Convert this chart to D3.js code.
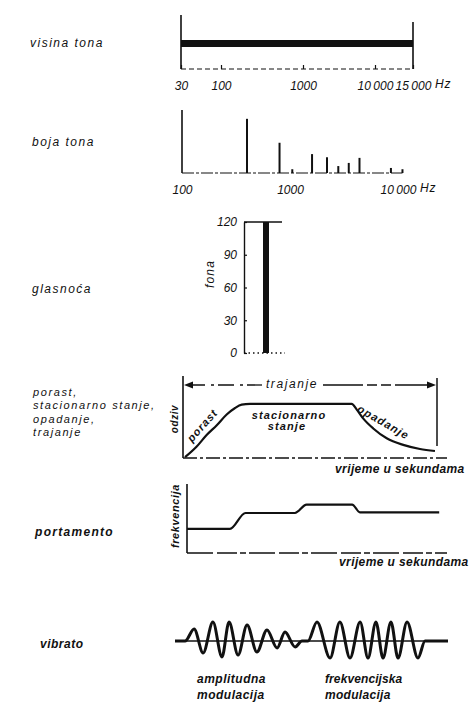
<!DOCTYPE html>
<html><head><meta charset="utf-8">
<script src="https://cdn.jsdelivr.net/npm/d3@7"></script>
<style>
body{margin:0;background:#fff;}
svg text{font-family:"Liberation Sans",Arial,sans-serif;font-style:italic;fill:#111;}
</style></head><body>
<svg id="c" width="471" height="714"></svg>
<script>
// ---------- data ----------
const rowLabels = ["visina tona", "boja tona", "glasnoća", "portamento", "vibrato"];
const envLegend = ["porast,", "stacionarno stanje,", "opadanje,", "trajanje"];

const pitchTicks = [30, 100, 1000, 10000, 15000];
const pitchTickLabels = ["30", "100", "1000", "10\u2009000", "15\u2009000"];
const pitchRange = [30, 15000];

const timbreTicks = [100, 1000, 10000];
const timbreTickLabels = ["100", "1000", "10\u2009000"];
const timbreFreqs = [400, 800, 1050, 1600, 2200, 2800, 3500, 4400, 8600, 11000];
const timbreAmps  = [86, 48, 6, 30, 25, 11, 16, 24, 8, 6];

const loudTicks = [0, 30, 60, 90, 120];
const loudRange = [0, 120];

const envTime  = [0.08, 0.54, 0.93, 1.33, 1.72, 2.05, 2.31, 2.64, 6.64, 6.84, 7.1, 7.49, 8.02, 8.67, 9.33, 9.92];
const envValue = [1, 14, 28, 40, 53, 61, 65, 66, 66, 59, 48, 36, 24, 16, 11, 8.5];
const envDuration = [0, 10];

const portTime = [0, 1.65, 2.25, 4.15, 4.6, 6.35, 6.65, 9.7];
const portFreq = [35, 35, 58, 58, 70, 70, 59, 59];

const vibTime  = [0, 3.7, 7.0, 10.3, 13.9, 17.2, 19.8, 23.1, 26.4, 30.0, 33.7, 37.4, 40.3, 44.0, 46.5, 48.7,
                  52.0, 56.8, 60.4, 64.1, 67.8, 70.7, 73.6, 76.2, 79.1, 81.7, 85.0, 89.0, 91.6, 100];
const vibValue = [0, 0, 12, -12, 19, -16, 19, -14, 16, -11, 11, -7, 9, -6, 0, 0,
                  19, -17, 19, -17, 19, -17, 19, -17, 19, -17, 19, -17, 0, 0];

// ---------- drawing ----------
const svg = d3.select("#c");
const ink = "#111";
function hline(g, x1, x2, y, w, dash) {
  g.append("line").attr("x1", x1).attr("x2", x2).attr("y1", y).attr("y2", y)
    .attr("stroke", ink).attr("stroke-width", w).attr("stroke-dasharray", dash || null);
}
function vline(g, x, y1, y2, w, dash) {
  g.append("line").attr("x1", x).attr("x2", x).attr("y1", y1).attr("y2", y2)
    .attr("stroke", ink).attr("stroke-width", w).attr("stroke-dasharray", dash || null);
}
function label(t, x, y, opts) {
  opts = opts || {};
  return svg.append("text").attr("x", x).attr("y", y).text(t)
    .attr("font-size", opts.size || 12)
    .attr("font-weight", opts.bold ? "bold" : "normal")
    .attr("letter-spacing", opts.ls == null ? 1.5 : opts.ls)
    .attr("text-anchor", opts.anchor || "start")
    .attr("dominant-baseline", "middle")
    .attr("transform", opts.rot != null ? `rotate(${opts.rot},${x},${y})` : null);
}
function styleAxis(g) {
  g.select(".domain").remove();
  g.selectAll("text").attr("font-size", 12).attr("fill", ink)
    .style("font-family", '"Liberation Sans",Arial,sans-serif').style("font-style", "italic");
  g.selectAll(".tick line").attr("stroke", ink).attr("stroke-width", 1.2);
}

// row labels
label(rowLabels[0], 30, 44);
label(rowLabels[1], 32, 143);
label(rowLabels[2], 32, 290);
label(rowLabels[3], 35, 533, {bold: true, ls: 1.3});
label(rowLabels[4], 40, 645, {bold: true, ls: 0.5});
envLegend.forEach((t, i) => label(t, 33, 393 + i * 13.3, {size: 11, ls: 1.6}));

// ---- panel 1: pitch range ----
{
  const x = d3.scaleLog().domain(pitchTicks).range([181, 221, 303, 375, 413]);
  const g = svg.append("g");
  const y0 = 69;
  g.append("rect").attr("x", x(pitchRange[0])).attr("width", x(pitchRange[1]) - x(pitchRange[0]))
    .attr("y", 40).attr("height", 7).attr("fill", ink);
  vline(g, x(pitchRange[0]), 15, y0, 1.6);
  vline(g, x(pitchRange[1]), 22, y0, 1.6);
  hline(g, x(pitchRange[0]), x(pitchRange[1]), y0, 1.2, "5,3");
  const ax = g.append("g").attr("transform", `translate(0,${y0})`)
    .call(d3.axisBottom(x).tickValues(pitchTicks).tickFormat((d, i) => pitchTickLabels[i])
      .tickSizeInner(-4).tickSizeOuter(0).tickPadding(12));
  styleAxis(ax);
  label("Hz", x(pitchRange[1]) + 22, y0 + 16, {ls: 0.8});
}

// ---- panel 2: timbre spectrum ----
{
  const x = d3.scaleLog().domain([100, 10000]).range([182, 398]);
  const y = d3.scaleLinear().domain([0, 100]).range([173, 110]);
  const g = svg.append("g");
  vline(g, x(100), y(100), y(0), 1.6);
  hline(g, x(100), x(d3.max(timbreFreqs)), y(0), 1.2, "12,2,3,2");
  g.selectAll(".spec").data(timbreFreqs).join("line")
    .attr("x1", d => x(d)).attr("x2", d => x(d))
    .attr("y1", y(0)).attr("y2", (d, i) => y(timbreAmps[i]))
    .attr("stroke", ink).attr("stroke-width", 2);
  const ax = g.append("g").attr("transform", `translate(0,${y(0)})`)
    .call(d3.axisBottom(x).tickValues(timbreTicks).tickFormat((d, i) => timbreTickLabels[i])
      .tickSize(0).tickPadding(12));
  styleAxis(ax);
  label("Hz", x(10000) + 22, y(0) + 16, {ls: 0.8});
}

// ---- panel 3: loudness ----
{
  const y = d3.scaleLinear().domain(loudRange).range([353, 222]);
  const g = svg.append("g");
  const ax0 = 244;
  const ax = g.append("g").attr("transform", `translate(${ax0},0)`)
    .call(d3.axisLeft(y).tickValues(loudTicks).tickSizeInner(-3).tickSizeOuter(0).tickPadding(7));
  ax.select(".domain").attr("stroke", ink).attr("stroke-width", 1.4);
  ax.selectAll("text").attr("font-size", 12).attr("fill", ink)
    .style("font-family", '"Liberation Sans",Arial,sans-serif').style("font-style", "italic");
  ax.selectAll(".tick line").attr("stroke", ink).attr("stroke-width", 1.2);
  hline(g, ax0, 282, y(loudRange[1]), 1.4);
  hline(g, ax0, 285, y(loudRange[0]), 1.4, "1.5,3");
  g.append("rect").attr("x", 263).attr("width", 6)
    .attr("y", y(loudRange[1])).attr("height", y(loudRange[0]) - y(loudRange[1])).attr("fill", ink);
  label("fona", 211, 274, {rot: -90, size: 12, ls: 1.2, anchor: "middle"});
}

// ---- panel 4: envelope ----
{
  const x = d3.scaleLinear().domain([0, 10]).range([183, 437]);
  const y = d3.scaleLinear().domain([0, 100]).range([458, 376]);
  const g = svg.append("g");
  vline(g, x(0), y(100), y(0), 1.6);
  hline(g, x(0), 447, y(0), 1.3, "14,3,3,3");
  vline(g, x(envDuration[1]), 378, 446, 1.5);
  const pts = envTime.map((t, i) => [t, envValue[i]]);
  g.append("path").datum(pts)
    .attr("d", d3.line().x(d => x(d[0])).y(d => y(d[1])).curve(d3.curveMonotoneX))
    .attr("fill", "none").attr("stroke", ink).attr("stroke-width", 2.2);
  // duration arrow
  const ay = 385;
  hline(g, x(envDuration[0]) + 6, 262, ay, 1.3, "16,6,3,4");
  hline(g, 323, x(envDuration[1]) - 6, ay, 1.3, "40,4,10,4,10,4");
  g.append("path").attr("d", `M${x(envDuration[0]) + 1},${ay}l9,-3.5v7z`).attr("fill", ink);
  g.append("path").attr("d", `M${x(envDuration[1]) - 1},${ay}l-9,-3.5v7z`).attr("fill", ink);
  label(envLegend[3].replace(",", ""), 292, ay, {anchor: "middle", ls: 1.6});
  label("porast", 203, 426, {rot: -48, anchor: "middle", size: 11, bold: true, ls: 1});
  label("stacionarno", 289, 416, {anchor: "middle", size: 11, bold: true, ls: 1.1});
  label("stanje", 287, 427, {anchor: "middle", size: 11, bold: true, ls: 1.1});
  label("opadanje", 383, 423, {rot: 30, anchor: "middle", size: 11, bold: true, ls: 1.2});
  label("odziv", 175, 419, {rot: -90, anchor: "middle", size: 10, bold: true, ls: 0.6});
  label("vrijeme u sekundama", 335, 470, {size: 12, bold: true, ls: 0.4});
}

// ---- panel 5: portamento ----
{
  const x = d3.scaleLinear().domain([0, 10]).range([187, 447]);
  const y = d3.scaleLinear().domain([0, 100]).range([553, 484]);
  const g = svg.append("g");
  vline(g, x(0), y(100), y(0), 1.6);
  hline(g, x(0), x(10), y(0), 1.3, "26,4,20,3,6,3");
  const pts = portTime.map((t, i) => [t, portFreq[i]]);
  g.append("path").datum(pts)
    .attr("d", d3.line().x(d => x(d[0])).y(d => y(d[1])).curve(d3.curveMonotoneX))
    .attr("fill", "none").attr("stroke", ink).attr("stroke-width", 2.2);
  label("frekvencija", 176, 516, {rot: -90, anchor: "middle", size: 11, bold: true, ls: 0.6});
  label("vrijeme u sekundama", 339, 563, {size: 12, bold: true, ls: 0.4});
}

// ---- panel 6: vibrato ----
{
  const x = d3.scaleLinear().domain([0, 100]).range([175, 448]);
  const y = d3.scaleLinear().domain([-20, 20]).range([661, 621]);
  const g = svg.append("g");
  hline(g, x(0), x(100), y(0), 1.3);
  const pts = vibTime.map((t, i) => [t, vibValue[i]]);
  g.append("path").datum(pts)
    .attr("d", d3.line().x(d => x(d[0])).y(d => y(d[1])).curve(d3.curveMonotoneX))
    .attr("fill", "none").attr("stroke", ink).attr("stroke-width", 3).attr("stroke-linejoin", "round");
  label("amplitudna", 197, 680, {size: 12, bold: true, ls: 0.5});
  label("modulacija", 197, 696, {size: 12, bold: true, ls: 0.5});
  label("frekvencijska", 325, 680, {size: 12, bold: true, ls: 0.1});
  label("modulacija", 325, 696, {size: 12, bold: true, ls: 0.3});
}
</script>
</body></html>
